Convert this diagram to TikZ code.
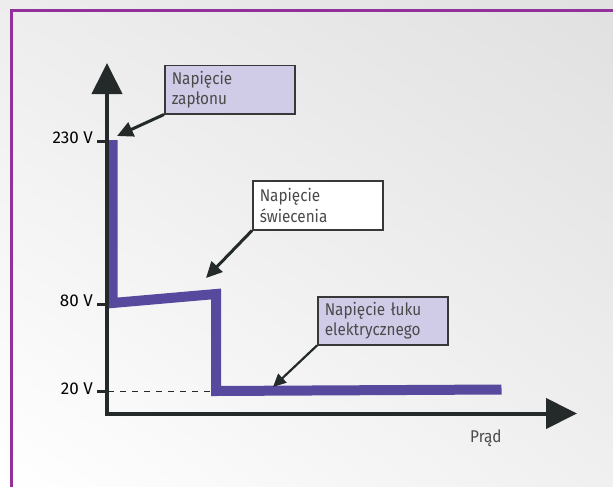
\documentclass[tikz,border=0pt]{standalone}
\usepackage{fontspec}
\setmainfont{Fira Sans}
\newfontfamily\labelfont{Fira Sans}
\newfontfamily\narrowfont{Fira Sans}[FakeStretch=0.9]
\usetikzlibrary{
    arrows.meta,
    positioning,
    calc,
    shadings,
}
\definecolor{framepurple}{HTML}{93309B}
\definecolor{curvepurple}{HTML}{574A9E}
\definecolor{axisgray}{HTML}{232A29}
\definecolor{lavender}{HTML}{D0CBE6}
\definecolor{boxborder}{HTML}{383838}
\definecolor{boxtext}{HTML}{4A4A4A}

\begin{document}
\begin{tikzpicture}[
    x=1pt, y=-1pt,
    axis/.style={draw=axisgray, line width=4pt, -{Triangle[length=31pt,width=30pt]}},
    tick/.style={draw=axisgray, line width=3pt},
    ticklabel/.style={anchor=base east, inner sep=0pt, text=black,
                font=\labelfont\fontsize{17}{20}\selectfont},
    callout/.style={draw=boxborder, line width=1.5pt, fill=lavender, anchor=north west,
                align=left, text width=116pt, inner xsep=7pt, inner ysep=0pt,
                minimum width=130pt, minimum height=48pt, text=boxtext,
                font=\narrowfont\fontsize{17}{20.5}\selectfont},
    pointer/.style={draw=axisgray, line width=3pt, -{Triangle[length=16pt,width=15pt]}},
    curve/.style={draw=curvepurple, line width=10pt, line join=miter},
    guide/.style={draw=axisgray, line width=1pt, dash pattern=on 6pt off 6pt},
]

\useasboundingbox (0,0) rectangle (613,487);
\shade[upper left=black!7, upper right=black!12, lower left=white, lower right=black!6]
    (0,0) rectangle (613,487);
\draw[framepurple, line width=3pt] (11,487) -- (11,11) -- (613,11);

% axes
\coordinate (origin) at (105,413.5);
\coordinate (ytop) at (107,63);
\coordinate (xend) at (577,413.5);

% voltage curve
\coordinate (ignite) at (112.5,140);
\coordinate (glowL) at (112.5,303);
\coordinate (glowR) at (216,294);
\coordinate (arcL) at (216,391);
\coordinate (arcR) at (501.5,389.5);

\draw[guide] (108,391) -- (arcL);
\draw[curve] (ignite) -- (glowL) -- (glowR) -- (arcL) -- (arcR);

\draw[axis] (origin) -- (xend);
\draw[axis] (107,415.5) -- (ytop);

\draw[tick] (97,141) -- (106,141);
\draw[tick] (97,304) -- (106,304);
\draw[tick] (97,391) -- (106,391);
\node[ticklabel] at (93,143.5) (v230) {230 V};
\node[ticklabel] at (93,306.5) (v80) {80 V};
\node[ticklabel] at (93,394) (v20) {20 V};

\node[anchor=base west, inner sep=0pt, text=boxtext,
    font=\narrowfont\fontsize{17}{20}\selectfont] at (470,442) (prad) {Prąd};

% callouts
\node[callout] at (164,65) (zaplon) {Napięcie\\zapłonu};
\node[callout, fill=white, minimum height=49pt] at (252,180) (swiecenie) {Napięcie\\świecenia};
\node[callout] at (317,296) (luk) {Napięcie łuku\\elektrycznego};

\coordinate (zaplonTip) at (117,136);
\coordinate (swiecenieTip) at (206,278);
\coordinate (lukTip) at (273,387);

\draw[pointer] (zaplon.south west) -- (zaplonTip);
\draw[pointer] (swiecenie.south west) -- (swiecenieTip);
\draw[pointer, line width=2.2pt, -{Triangle[length=13pt,width=12pt]}] (luk.south west) -- (lukTip);

\end{tikzpicture}
\end{document}
